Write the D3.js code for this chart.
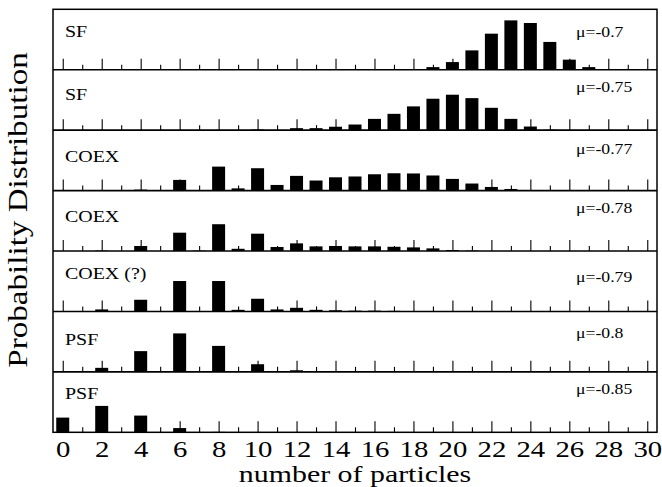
<!DOCTYPE html>
<html>
<head>
<meta charset="utf-8">
<script src="https://cdn.jsdelivr.net/npm/d3@7/dist/d3.min.js"></script>
<style>
  html, body { margin: 0; padding: 0; background: #fff; }
  svg { display: block; }
  text { font-family: "Liberation Serif", "Times New Roman", serif; fill: #000; }
</style>
</head>
<body>
<svg id="chart" width="662" height="487"></svg>
<script>
// Particle-number probability distributions at several chemical potentials
const particleCounts = d3.range(0, 31);
const regimeLabels = ["SF", "SF", "COEX", "COEX", "COEX (?)", "PSF", "PSF"];
const muLabels = ["μ=-0.7", "μ=-0.75", "μ=-0.77", "μ=-0.78", "μ=-0.79", "μ=-0.8", "μ=-0.85"];
const majorTicks = d3.range(0, 31, 2);
const minorTicks = d3.range(1, 30, 2);

//                 0      1      2      3      4      5      6      7      8      9     10     11     12     13     14     15     16     17     18     19     20     21     22     23     24     25     26     27     28     29     30
const probMu070 = [0,     0,     0,     0,     0,     0,     0,     0,     0,     0,     0,     0,     0,     0,     0,     0,     0,     0,     0.003, 0.013, 0.038, 0.096, 0.179, 0.245, 0.232, 0.138, 0.050, 0.013, 0,     0,     0];
const probMu075 = [0,     0,     0,     0,     0,     0,     0,     0,     0,     0,     0.003, 0,     0.010, 0.010, 0.017, 0.028, 0.056, 0.081, 0.118, 0.156, 0.176, 0.159, 0.111, 0.056, 0.018, 0.002, 0,     0,     0,     0,     0];
const probMu077 = [0,     0,     0,     0,     0.005, 0,     0.053, 0.002, 0.119, 0.011, 0.111, 0.028, 0.073, 0.050, 0.066, 0.070, 0.081, 0.086, 0.085, 0.075, 0.058, 0.035, 0.018, 0.008, 0,     0,     0,     0,     0,     0,     0];
const probMu078 = [0,     0,     0.002, 0,     0.025, 0,     0.091, 0.002, 0.133, 0.011, 0.086, 0.020, 0.038, 0.023, 0.025, 0.023, 0.023, 0.021, 0.018, 0.013, 0.005, 0.002, 0,     0,     0,     0,     0,     0,     0,     0,     0];
const probMu079 = [0,     0,     0.010, 0,     0.058, 0,     0.151, 0.002, 0.151, 0.008, 0.063, 0.010, 0.018, 0.008, 0.006, 0.004, 0.004, 0.003, 0,     0,     0,     0,     0,     0,     0,     0,     0,     0,     0,     0,     0];
const probMu080 = [0,     0,     0.020, 0,     0.103, 0,     0.191, 0.001, 0.129, 0.003, 0.038, 0.003, 0.008, 0.002, 0,     0,     0,     0,     0,     0,     0,     0,     0,     0,     0,     0,     0,     0,     0,     0,     0];
const probMu085 = [0.073, 0,     0.131, 0,     0.083, 0,     0.021, 0,     0.002, 0,     0,     0,     0,     0,     0,     0,     0,     0,     0,     0,     0,     0,     0,     0,     0,     0,     0,     0,     0,     0,     0];

const panelSeries = [probMu070, probMu075, probMu077, probMu078, probMu079, probMu080, probMu085];

// layout
const plotLeft = 53, plotRight = 657, plotTop = 9.3, plotBottom = 432.3;
const stretch = 1.2;              // horizontally widened serif lettering
const regimeDy = [28, 30.7, 32, 31.6, 28.3, 34, 27.3];
const muDy = [28, 22.4, 24, 22, 30.6, 27, 22.3];

const svg = d3.select("#chart");

const x = d3.scaleLinear().domain([-0.5, 30.5]).range([plotLeft, plotRight]);
const band = d3.scaleBand().domain(d3.range(panelSeries.length)).range([plotTop, plotBottom]);
const h = band.bandwidth();
const y = d3.scaleLinear().domain([0, 0.3]).range([h, 0]);
const barW = x(0.667) - x(0);

panelSeries.forEach((series, i) => {
  const g = svg.append("g").attr("transform", `translate(0,${band(i)})`);

  // tick marks pointing up from the panel floor
  const major = d3.axisBottom(x).tickValues(majorTicks).tickSize(-11).tickFormat("");
  const minor = d3.axisBottom(x).tickValues(minorTicks).tickSize(-5).tickFormat("");
  [major, minor].forEach(ax => {
    const a = g.append("g").attr("transform", `translate(0,${h})`).call(ax);
    a.select(".domain").remove();
    a.selectAll("line").attr("stroke", "#000").attr("stroke-width", 1.1);
  });

  // bars
  const data = particleCounts.map((n, k) => ({ n, p: series[k] })).filter(d => d.p > 0);
  g.selectAll("rect.bar").data(data).join("rect")
    .attr("class", "bar")
    .attr("x", d => x(d.n) - barW / 2)
    .attr("width", barW)
    .attr("y", d => y(d.p))
    .attr("height", d => h - y(d.p))
    .attr("fill", "#000");

  // regime label
  g.append("text")
    .attr("transform", `translate(65,${regimeDy[i]}) scale(${stretch * 0.95},1)`)
    .attr("font-size", 17.5)
    .text(regimeLabels[i]);

  // chemical potential label
  g.append("text")
    .attr("transform", `translate(576,${muDy[i]}) scale(${stretch * 0.95},1)`)
    .attr("font-size", 15.5)
    .text(muLabels[i]);
});

// panel separators
svg.append("g").selectAll("line").data(d3.range(1, panelSeries.length)).join("line")
  .attr("x1", plotLeft).attr("x2", plotRight)
  .attr("y1", i => band(i)).attr("y2", i => band(i))
  .attr("stroke", "#000").attr("stroke-width", 1.6);

// frame
svg.append("rect")
  .attr("x", plotLeft).attr("y", plotTop)
  .attr("width", plotRight - plotLeft).attr("height", plotBottom - plotTop)
  .attr("fill", "none").attr("stroke", "#000").attr("stroke-width", 1.5);

// x tick labels
const labelAxis = d3.axisBottom(x).tickValues(majorTicks).tickSize(0).tickFormat(d3.format("d"));
const la = svg.append("g").attr("transform", `translate(0,${plotBottom})`).call(labelAxis);
la.select(".domain").remove();
la.selectAll("text")
  .attr("y", 24.4).attr("dy", 0)
  .attr("font-size", 23)
  .attr("font-family", "Liberation Serif, serif")
  .attr("transform", `scale(${stretch + 0.05},1)`);

// axis titles
svg.append("text")
  .attr("transform", `translate(${(plotLeft + plotRight) / 2},481.8) scale(${stretch + 0.1},1)`)
  .attr("text-anchor", "middle")
  .attr("font-size", 23)
  .text("number of particles");

svg.append("text")
  .attr("transform", `translate(26.7,210) rotate(-90) scale(${stretch + 0.05},1)`)
  .attr("text-anchor", "middle")
  .attr("font-size", 26.5)
  .text("Probability Distribution");
</script>
</body>
</html>
